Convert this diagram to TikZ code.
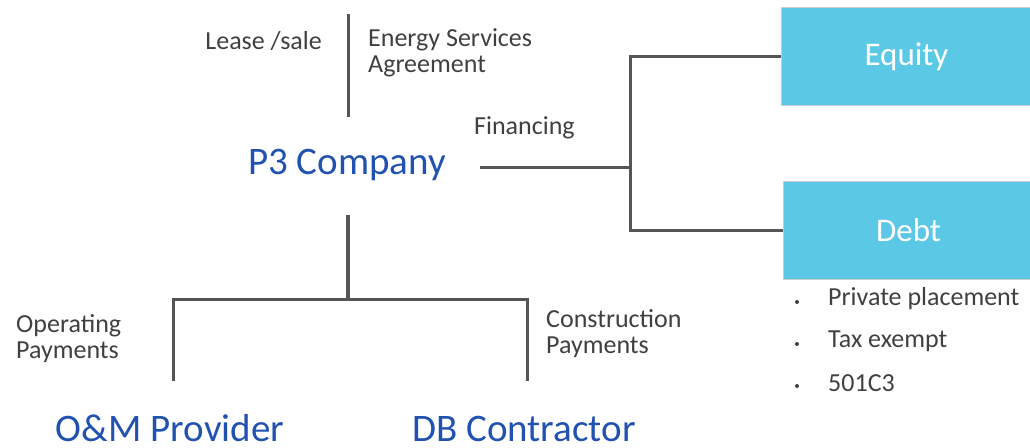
\documentclass[tikz,border=0pt]{standalone}
\usepackage{fontspec}
\setmainfont{Carlito}
\usetikzlibrary{positioning}

\definecolor{linegray}{HTML}{555555}
\definecolor{txtgray}{HTML}{404040}
\definecolor{partyblue}{HTML}{2152B0}
\definecolor{fundcyan}{HTML}{5BC8E6}

\tikzset{
  note/.style={text=txtgray, font=\fontsize{26}{26}\selectfont, align=left, inner sep=0pt},
  party/.style={text=partyblue, font=\fontsize{39}{40}\selectfont, inner sep=0pt},
  fund/.style={fill=fundcyan, draw=gray!40, line width=1pt, text=white,
    font=\fontsize{33}{36}\selectfont, minimum width=250pt, minimum height=98pt},
  link/.style={draw=linegray, line width=3pt},
}

\begin{document}
\begin{tikzpicture}[x=1pt,y=-1pt]
\useasboundingbox (0,0) rectangle (1030,447);

% parties
\node[party] (p3) at (347,165) {P3 Company};
\node[party, anchor=base] (om) at (170,441) {O\&M Provider};
\node[party, anchor=base] (db) at (524,441) {DB Contractor};

% sources of funds
\node[fund, anchor=north west] (equity) at (781,7) {Equity};
\node[fund, anchor=north west] (debt) at (783,181) {Debt};

% labels on the links
\node[note, anchor=east] (lease) at (322,41) {Lease /sale};
\node[note, anchor=west] (esa) at (368,53) {Energy Services\\Agreement};
\node[note, anchor=west] (fin) at (474,128) {Financing};
\node[note, anchor=west] (oppay) at (16,339) {Operating\\Payments};
\node[note, anchor=west] (conpay) at (546,334) {Construction\\Payments};

% kinds of debt
\foreach \txt [count=\i] in {Private placement, Tax exempt, 501C3} {
  \node[note, anchor=west] (item\i) at (828,257+42*\i) {\txt};
  \fill[txtgray] ([xshift=-31pt,yshift=-3pt]item\i.west) circle (2pt);
}

% end points of the links
\coordinate (esatop) at (348,14);
\coordinate (esabot) at (348,117);
\coordinate (finstart) at (480,167);
\coordinate (branch) at (630,167);
\coordinate (p3foot) at (348,215);
\coordinate (split) at (348,299);
\coordinate (omtop) at (173,381);
\coordinate (dbtop) at (527,381);

\draw[link] (esatop) -- (esabot);
\draw[link] (finstart) -- (branch);
\draw[link] (equity.west) -| (branch) |- (debt.west);
\draw[link, line width=4.5pt] (p3foot) -- (split);
\draw[link] (omtop) |- (split) -| (dbtop);

\end{tikzpicture}
\end{document}
